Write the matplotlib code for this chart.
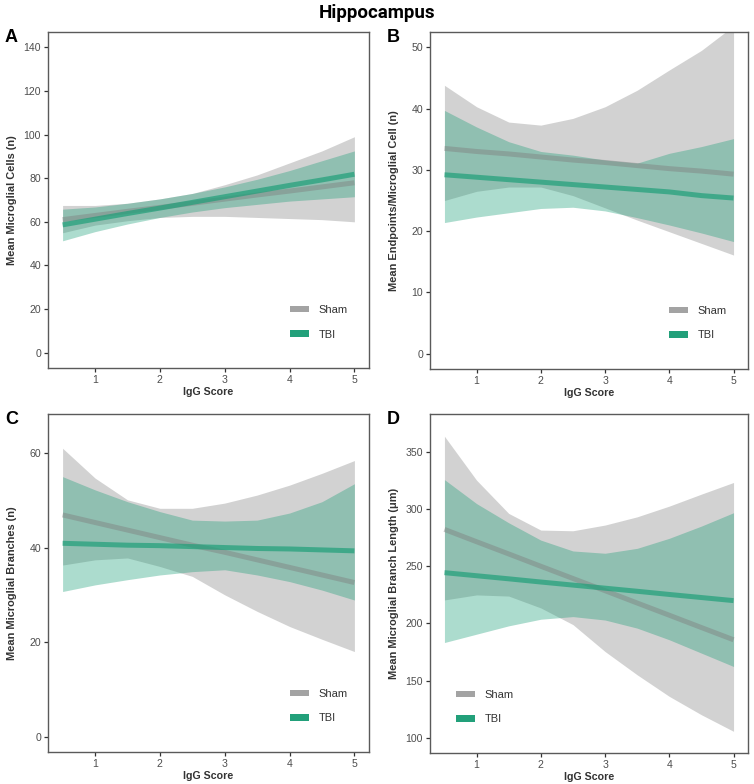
import matplotlib
matplotlib.use("Agg")
import matplotlib.pyplot as plt
from matplotlib.patches import Patch

plt.rcParams["font.family"] = ["Liberation Sans", "DejaVu Sans"]

igg = [0.5, 1.0, 1.5, 2.0, 2.5, 3.0, 3.5, 4.0, 4.5, 5.0]

# Panel A - microglial cells
a_sham_fit = [61.0, 62.9, 64.8, 66.6, 68.5, 70.4, 72.3, 74.1, 76.0, 77.9]
a_sham_lo = [55.0, 58.5, 60.5, 62.0, 62.5, 62.5, 62.0, 61.5, 61.0, 60.0]
a_sham_hi = [67.5, 67.5, 68.5, 70.5, 73.0, 77.0, 81.5, 87.0, 92.5, 99.0]
a_tbi_fit = [58.6, 61.2, 63.8, 66.3, 68.9, 71.5, 74.1, 76.7, 79.2, 81.8]
a_tbi_lo = [51.3, 55.5, 59.0, 62.0, 64.5, 66.5, 68.0, 69.5, 70.5, 71.5]
a_tbi_hi = [65.8, 66.8, 68.5, 70.5, 73.0, 76.0, 79.5, 83.5, 88.0, 92.5]

# Panel B - endpoints per cell
b_sham_fit = [33.5, 33.0, 32.6, 32.1, 31.6, 31.2, 30.7, 30.2, 29.8, 29.3]
b_sham_lo = [25.0, 26.5, 27.2, 27.2, 25.8, 23.8, 21.8, 19.9, 18.0, 16.1]
b_sham_hi = [43.8, 40.3, 37.8, 37.3, 38.4, 40.3, 43.0, 46.3, 49.5, 53.5]
b_tbi_fit = [29.2, 28.8, 28.4, 28.0, 27.6, 27.2, 26.8, 26.4, 25.8, 25.4]
b_tbi_lo = [21.4, 22.3, 23.0, 23.7, 23.9, 23.3, 22.2, 21.0, 19.7, 18.3]
b_tbi_hi = [39.7, 37.0, 34.6, 33.0, 32.4, 31.6, 31.1, 32.7, 33.8, 35.1]

# Panel C - branches
c_sham_fit = [46.9, 45.3, 43.7, 42.1, 40.5, 39.0, 37.4, 35.8, 34.2, 32.6]
c_sham_lo = [36.3, 37.4, 37.8, 36.0, 33.9, 30.0, 26.5, 23.3, 20.6, 18.0]
c_sham_hi = [61.0, 54.7, 50.1, 48.3, 48.3, 49.4, 51.1, 53.2, 55.7, 58.4]
c_tbi_fit = [40.9, 40.7, 40.5, 40.4, 40.2, 40.0, 39.8, 39.7, 39.5, 39.3]
c_tbi_lo = [30.7, 32.1, 33.2, 34.2, 34.9, 35.3, 34.2, 32.8, 31.0, 28.9]
c_tbi_hi = [55.0, 52.2, 49.7, 47.6, 45.8, 45.6, 45.8, 47.3, 49.7, 53.5]

# Panel D - branch length
d_sham_fit = [282.4, 271.6, 260.9, 250.1, 239.4, 228.7, 217.9, 207.2, 196.4, 185.7]
d_sham_lo = [220.6, 225.0, 224.0, 213.6, 199.0, 175.4, 155.0, 136.1, 120.0, 105.5]
d_sham_hi = [364.0, 325.5, 296.4, 281.8, 281.2, 286.2, 293.4, 302.8, 313.3, 323.5]
d_tbi_fit = [244.5, 241.8, 239.1, 236.3, 233.6, 230.9, 228.2, 225.4, 222.7, 220.0]
d_tbi_lo = [183.3, 190.6, 197.9, 203.7, 206.0, 203.0, 195.9, 185.7, 174.0, 162.3]
d_tbi_hi = [326.0, 305.0, 288.2, 273.0, 263.5, 261.5, 265.8, 274.6, 285.3, 297.0]

groups = ["Sham", "TBI"]
panel_letters = ["A", "B", "C", "D"]
ylabels = [
    "Mean Microglial Cells (n)",
    "Mean Endpoints/Microglial Cell (n)",
    "Mean Microglial Branches (n)",
    "Mean Microglial Branch Length (\u03bcm)",
]
yticks = [
    [0, 20, 40, 60, 80, 100, 120, 140],
    [0, 10, 20, 30, 40, 50],
    [0, 20, 40, 60],
    [100, 150, 200, 250, 300, 350],
]
ylims = [(-7, 147), (-2.5, 52.5), (-3.25, 68.25), (86.5, 383.5)]

panels = [
    (a_sham_fit, a_sham_lo, a_sham_hi, a_tbi_fit, a_tbi_lo, a_tbi_hi),
    (b_sham_fit, b_sham_lo, b_sham_hi, b_tbi_fit, b_tbi_lo, b_tbi_hi),
    (c_sham_fit, c_sham_lo, c_sham_hi, c_tbi_fit, c_tbi_lo, c_tbi_hi),
    (d_sham_fit, d_sham_lo, d_sham_hi, d_tbi_fit, d_tbi_lo, d_tbi_hi),
]

W, H = 754, 784
# axes boxes in pixels: left, top, right, bottom
boxes = [(48, 32, 369, 368), (430, 32, 748, 369), (48, 414, 369, 752), (430, 414, 748, 753)]
legend_loc = ["lower right", "lower right", "lower right", "lower left"]

fig = plt.figure(figsize=(W / 100, H / 100), dpi=100)
fig.text(0.5, 1 - 13 / H, "Hippocampus", ha="center", va="center",
         fontsize=13.5, fontweight="bold", family=["Roboto", "DejaVu Sans"])

green = "#1b9e77"
grey = "#7f7f7f"
edge = "#5a5a5a"

for i, (sf, slo, shi, tf, tlo, thi) in enumerate(panels):
    l, t, r, b = boxes[i]
    ax = fig.add_axes([l / W, 1 - b / H, (r - l) / W, (b - t) / H])
    # ggplot-like draw order: Sham ribbon + line, then TBI ribbon + line
    ax.fill_between(igg, slo, shi, color=grey, alpha=0.35, lw=0)
    ax.plot(igg, sf, color=grey, lw=3.6, alpha=0.45, solid_capstyle="butt")
    ax.fill_between(igg, tlo, thi, color=green, alpha=0.36, lw=0)
    ax.plot(igg, tf, color=green, lw=3.6, alpha=0.68, solid_capstyle="butt")

    ax.set_xlim(0.275, 5.225)
    ax.set_ylim(*ylims[i])
    ax.set_xticks([1, 2, 3, 4, 5])
    ax.set_yticks(yticks[i])
    ax.tick_params(length=3, width=0.9, color="#333333", labelsize=7.6,
                   labelcolor="#4d4d4d", pad=2)
    for s in ax.spines.values():
        s.set_color(edge)
        s.set_linewidth(1.0)
    ax.set_xlabel("IgG Score", fontsize=7.7, fontweight="bold", color="#333333")
    ax.set_ylabel(ylabels[i], fontsize=7.9, fontweight="bold", color="#333333")
    ax.xaxis.set_label_coords(0.5, -0.056)
    ax.yaxis.set_label_coords(-0.098 if i % 2 == 0 else -0.096, 0.5)

    handles = [Patch(facecolor="#a3a3a3", edgecolor="none"),
               Patch(facecolor="#22a07a", edgecolor="none")]
    anchor = (0.965, 0.055) if legend_loc[i] == "lower right" else (0.05, 0.055)
    ax.legend(handles, groups, loc=legend_loc[i], bbox_to_anchor=anchor,
              frameon=False, fontsize=8, handlelength=1.7, handleheight=0.55,
              labelspacing=1.3, handletextpad=0.9, labelcolor="#333333")

    fig.text((l - 43) / W, 1 - (t + 6) / H, panel_letters[i], ha="left", va="center",
             fontsize=13, fontweight="bold")

fig.savefig("out.png", dpi=100)
